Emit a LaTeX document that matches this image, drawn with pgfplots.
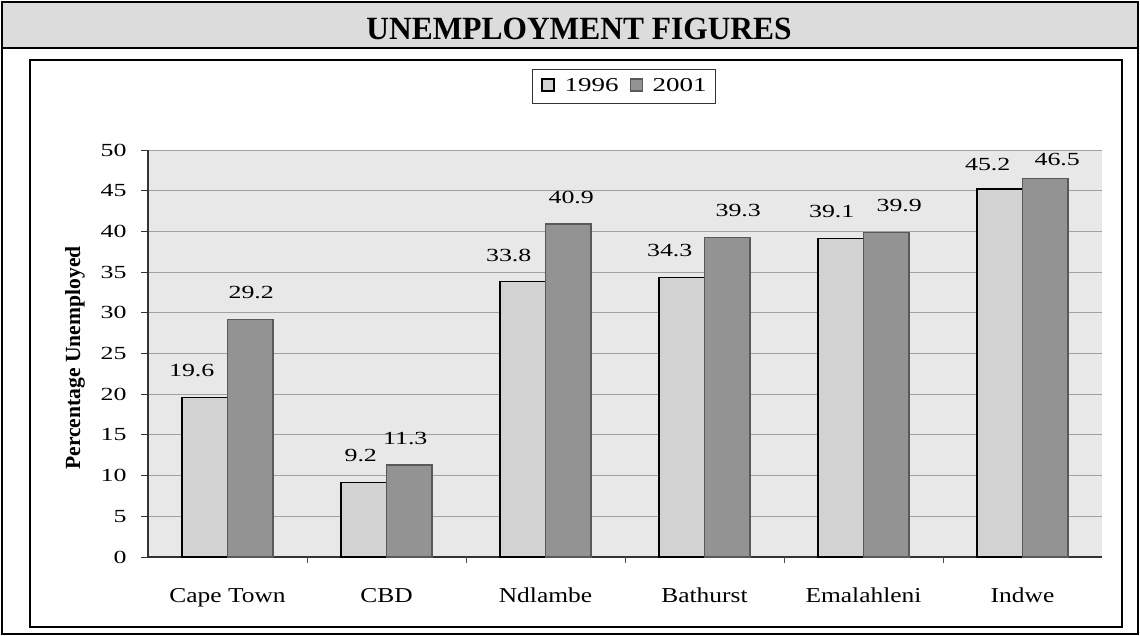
\documentclass[border=0pt]{standalone}
\usepackage{pgfplots}
\pgfplotsset{compat=1.18}
\usepackage{pgfplotstable}
\usepackage{graphicx}
\usepackage{fontspec}
\setmainfont{Liberation Serif}

% the chart's lettering is set wide
\newcommand\wide[1]{\scalebox{1.4}[1]{#1}}
\newcommand\catlabel[1]{\scalebox{1.2}[1]{#1}}
\newcommand\keylabel[1]{\scalebox{1.37}[1]{#1}}
\newcommand\chartfont{\fontsize{9.25}{11}\selectfont}

\definecolor{bandgray}{HTML}{DCDCDC}
\definecolor{plotbg}{HTML}{E8E8E8}
\definecolor{gridgray}{HTML}{A0A0A0}
\definecolor{barlight}{HTML}{D2D2D2}
\definecolor{bardark}{HTML}{939393}

% unemployment (%) by area; dx, dy place the value labels
\pgfplotstableread{
x y    dx   dy
0 19.6 -6.5 10
1 9.2  -1.5 10
2 33.8 -7   10
3 34.3 -6   10
4 39.1 -4.5 10
5 45.2 -6   9
}\yearA
\pgfplotstableread{
x y    dx   dy
0 29.2 0.5  10
1 11.3 -2   10
2 40.9 1.5  10
3 39.3 5.5  10
4 39.9 6.5  10
5 46.5 6    6.25
}\yearB

\begin{document}
\begin{tikzpicture}
\useasboundingbox (0,0) rectangle (570pt,-318pt);
% title band and frames
\fill[bandgray] (1pt,-1pt) rectangle (569pt,-24pt);
\draw[line width=1pt] (1pt,-24pt) -- (569pt,-24pt);
\draw[line width=1.1pt] (1pt,-1pt) rectangle (569pt,-317pt);
\node[anchor=base, inner sep=0pt, font=\fontsize{16.2}{18}\selectfont\bfseries]
  at (289.5pt,-19.8pt) {\scalebox{0.97}[1]{UNEMPLOYMENT FIGURES}};
\draw[line width=0.8pt] (15pt,-30pt) rectangle (561pt,-313.5pt);

\begin{axis}[
  at={(74pt,-278.5pt)}, anchor=south west, scale only axis,
  width=477pt, height=203.5pt,
  xmin=-0.5, xmax=5.5, ymin=0, ymax=50,
  ybar=0pt, bar width=22.75pt,
  axis background/.style={fill=plotbg},
  axis x line*=bottom, axis y line*=left,
  axis line style={-, black!80, line width=0.6pt},
  ytick={0,5,...,50},
  ytick align=outside, major tick length=3.5pt,
  ytick style={black!80, line width=0.5pt},
  ymajorgrids, grid style={gridgray, line width=0.5pt},
  xtick={0,...,5},
  xticklabels={\catlabel{Cape Town},\catlabel{CBD},\catlabel{Ndlambe},\catlabel{Bathurst},\catlabel{Emalahleni},\catlabel{Indwe}},
  xtick style={draw=none},
  extra x ticks={0.5,1.5,2.5,3.5,4.5},
  extra x tick labels={},
  extra x tick style={grid=none, xtick align=outside, major tick length=3pt,
    xtick style={draw=black!70, line width=0.5pt}},
  /pgf/number format/assume math mode=true,
  yticklabel={\wide{\pgfmathprintnumber{\tick}}},
  yticklabel style={font=\chartfont, inner sep=0pt, anchor=east, xshift=-7pt},
  xticklabel style={font=\fontsize{10.6}{12}\selectfont, inner sep=0pt, anchor=base, yshift=-19pt},
  ylabel={Percentage Unemployed},
  ylabel style={font=\fontsize{10.8}{12}\selectfont\bfseries,
    at={(axis description cs:-0.0765,0.489)}, anchor=center},
  legend style={at={(0.499,1.156)}, anchor=center, legend columns=2,
    draw=black!80, line width=0.5pt, font=\fontsize{9.85}{11}\selectfont,
    inner xsep=4.5pt, inner ysep=4.25pt, nodes={inner sep=0pt},
    /tikz/every odd column/.append style={column sep=5pt},
    /tikz/every even column/.append style={column sep=5.5pt}},
  legend image code/.code={\draw[#1, line width=0.6pt] (0pt,-2.15pt) rectangle (6pt,3.85pt);},
  visualization depends on={\thisrow{dx} \as \dx},
  visualization depends on={\thisrow{dy} \as \dy},
  nodes near coords={\wide{\pgfmathprintnumber[fixed,precision=1,fixed zerofill]{\pgfplotspointmeta}}},
  nodes near coords style={font=\chartfont, inner sep=0pt, anchor=south,
    xshift=\dx pt, yshift=\dy pt},
  clip=false,
]
\addplot[fill=barlight, draw=black, line width=0.6pt] table[x=x, y=y] {\yearA};
\addlegendentry{\keylabel{1996}}
\addplot[fill=bardark, draw=black!65, line width=0.6pt] table[x=x, y=y] {\yearB};
\addlegendentry{\keylabel{2001}}
\end{axis}
\end{tikzpicture}
\end{document}
